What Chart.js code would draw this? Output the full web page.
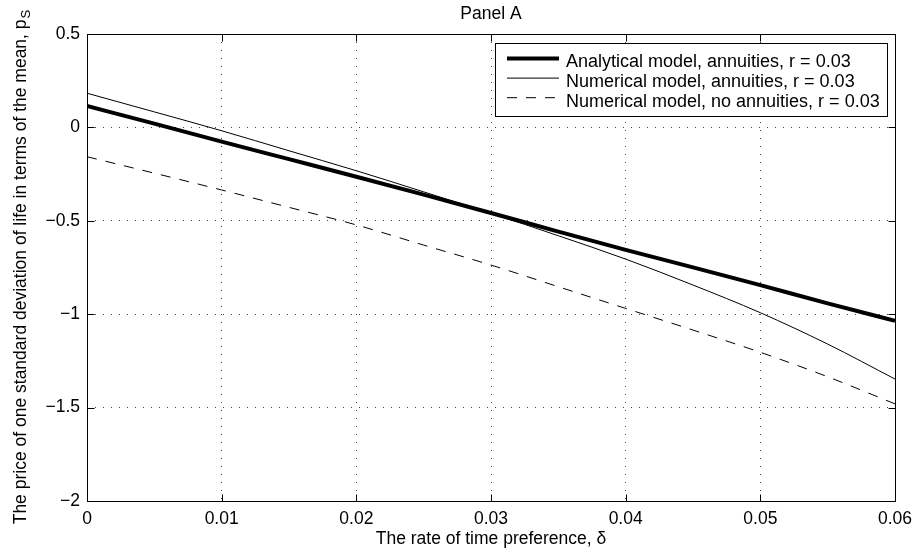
<!DOCTYPE html>
<html>
<head>
<meta charset="utf-8">
<script src="https://cdn.jsdelivr.net/npm/chart.js@4"></script>
<style>
  html, body { margin: 0; padding: 0; background: #fff; }
  #wrap { width: 915px; height: 555px; }
</style>
</head>
<body>
<div id="wrap"><canvas id="panelA" width="915" height="555"></canvas></div>
<script>
// rate of time preference (x) and the three model curves
const delta = [0, 0.005, 0.01, 0.015, 0.02, 0.025, 0.03, 0.035, 0.04, 0.045, 0.05, 0.055, 0.06];
const analyticalAnn = [0.115, 0.02, -0.076, -0.17, -0.264, -0.36, -0.458, -0.558, -0.656, -0.749, -0.844, -0.942, -1.035];
const numericalAnn = [0.183, 0.083, -0.018, -0.125, -0.232, -0.345, -0.46, -0.58, -0.705, -0.844, -0.992, -1.16, -1.347];
const numericalNoAnn = [-0.157, -0.245, -0.335, -0.428, -0.522, -0.63, -0.737, -0.853, -0.969, -1.085, -1.204, -1.335, -1.48];

const seriesNames = [
    'Analytical model, annuities, r = 0.03',
    'Numerical model, annuities, r = 0.03',
    'Numerical model, no annuities, r = 0.03'
];
const xTicks = [0, 0.01, 0.02, 0.03, 0.04, 0.05, 0.06];
const yTicks = [0.5, 0, -0.5, -1, -1.5, -2];

const FONT = 'Liberation Sans, Arial, Helvetica, sans-serif';
const FSIZE = 17.5;

const pts = ys => delta.map((x, i) => ({ x: x, y: ys[i] }));
const fmt = v => String(Number(v.toFixed(3))).replace('-', '\u2212');

// box, inward ticks, y label with subscript and legend, matlab style
const axesDecor = {
    id: 'axesDecor',
    afterDatasetsDraw(chart) {
        const { ctx, chartArea: a, scales } = chart;
        ctx.save();
        ctx.strokeStyle = '#000';
        ctx.lineWidth = 1;
        ctx.setLineDash([]);
        const L = Math.round(a.left) + 0.5, R = Math.round(a.right) + 0.5;
        const T = Math.round(a.top) + 0.5, B = Math.round(a.bottom) + 0.5;
        ctx.strokeRect(L, T, R - L, B - T);
        const tl = 7;
        ctx.beginPath();
        xTicks.forEach(v => {
            const px = Math.round(scales.x.getPixelForValue(v)) + 0.5;
            ctx.moveTo(px, B); ctx.lineTo(px, B - tl);
            ctx.moveTo(px, T); ctx.lineTo(px, T + tl);
        });
        yTicks.forEach(v => {
            const py = Math.round(scales.y.getPixelForValue(v)) + 0.5;
            ctx.moveTo(L, py); ctx.lineTo(L + tl, py);
            ctx.moveTo(R, py); ctx.lineTo(R - tl, py);
        });
        ctx.stroke();

        // y axis title, rotated, with subscript S
        const main = 'The price of one standard deviation of life in terms of the mean, p';
        ctx.fillStyle = '#000';
        ctx.font = FSIZE + 'px ' + FONT;
        const wMain = ctx.measureText(main).width;
        ctx.font = (FSIZE * 0.75) + 'px ' + FONT;
        const wSub = ctx.measureText('S').width;
        ctx.translate(26, (a.top + a.bottom) / 2);
        ctx.rotate(-Math.PI / 2);
        ctx.textBaseline = 'alphabetic';
        ctx.textAlign = 'left';
        const start = -(wMain + wSub) / 2;
        ctx.font = FSIZE + 'px ' + FONT;
        ctx.fillText(main, start, 0);
        ctx.font = (FSIZE * 0.75) + 'px ' + FONT;
        ctx.fillText('S', start + wMain + 1, 4);
        ctx.restore();

        // legend
        ctx.save();
        const box = { x: 495.5, y: 43.5, w: 392, h: 73 };
        ctx.fillStyle = '#fff';
        ctx.fillRect(box.x, box.y, box.w, box.h);
        ctx.strokeStyle = '#000';
        ctx.lineWidth = 1;
        ctx.strokeRect(box.x, box.y, box.w, box.h);
        ctx.font = '18px ' + FONT;
        ctx.textBaseline = 'alphabetic';
        ctx.fillStyle = '#000';
        chart.data.datasets.forEach((ds, i) => {
            const ly = 58.5 + i * 19.6;
            ctx.beginPath();
            ctx.lineWidth = ds.borderWidth;
            ctx.setLineDash(ds.borderDash || []);
            ctx.moveTo(507, ly);
            ctx.lineTo(559, ly);
            ctx.stroke();
            ctx.setLineDash([]);
            ctx.fillText(ds.label, 566, ly + 8.8);
        });
        ctx.restore();
    }
};

new Chart(document.getElementById('panelA'), {
    type: 'line',
    data: {
        datasets: [
            {
                label: seriesNames[0],
                data: pts(analyticalAnn),
                borderColor: '#000',
                borderWidth: 4,
                pointRadius: 0,
                cubicInterpolationMode: 'monotone'
            },
            {
                label: seriesNames[1],
                data: pts(numericalAnn),
                borderColor: '#000',
                borderWidth: 1,
                pointRadius: 0,
                cubicInterpolationMode: 'monotone'
            },
            {
                label: seriesNames[2],
                data: pts(numericalNoAnn),
                borderColor: '#000',
                borderWidth: 1,
                borderDash: [10, 9],
                pointRadius: 0,
                cubicInterpolationMode: 'monotone'
            }
        ]
    },
    options: {
        responsive: false,
        animation: false,
        layout: { padding: { left: 0, right: 20, top: 0, bottom: 0 } },
        plugins: {
            legend: { display: false },
            tooltip: { enabled: false },
            title: {
                display: true,
                text: 'Panel A',
                fullSize: false,
                color: '#000',
                font: { family: FONT, size: FSIZE, weight: 'normal' },
                padding: { top: 4, bottom: 9 }
            }
        },
        scales: {
            x: {
                type: 'linear',
                min: 0,
                max: 0.06,
                afterFit: s => { s.height = 54; s.paddingLeft = 0; s.paddingRight = 0; },
                afterBuildTicks: s => { s.ticks = xTicks.map(v => ({ value: v })); },
                ticks: {
                    color: '#000',
                    font: { family: FONT, size: FSIZE },
                    padding: 8,
                    maxRotation: 0,
                    callback: v => fmt(v)
                },
                grid: { color: '#444', lineWidth: 1, drawTicks: false },
                border: { display: false, dash: [1, 7] },
                title: {
                    display: true,
                    text: 'The rate of time preference, \u03b4',
                    color: '#000',
                    font: { family: FONT, size: FSIZE },
                    padding: { top: 0, bottom: 5 }
                }
            },
            y: {
                type: 'linear',
                min: -2,
                max: 0.5,
                afterFit: s => { s.width = 87; s.paddingTop = 0; s.paddingBottom = 0; },
                afterBuildTicks: s => { s.ticks = yTicks.map(v => ({ value: v })); },
                ticks: {
                    color: '#000',
                    font: { family: FONT, size: FSIZE },
                    padding: 7,
                    callback: v => fmt(v)
                },
                grid: { color: '#444', lineWidth: 1, drawTicks: false },
                border: { display: false, dash: [1, 7] }
            }
        }
    },
    plugins: [axesDecor]
});
</script>
</body>
</html>
